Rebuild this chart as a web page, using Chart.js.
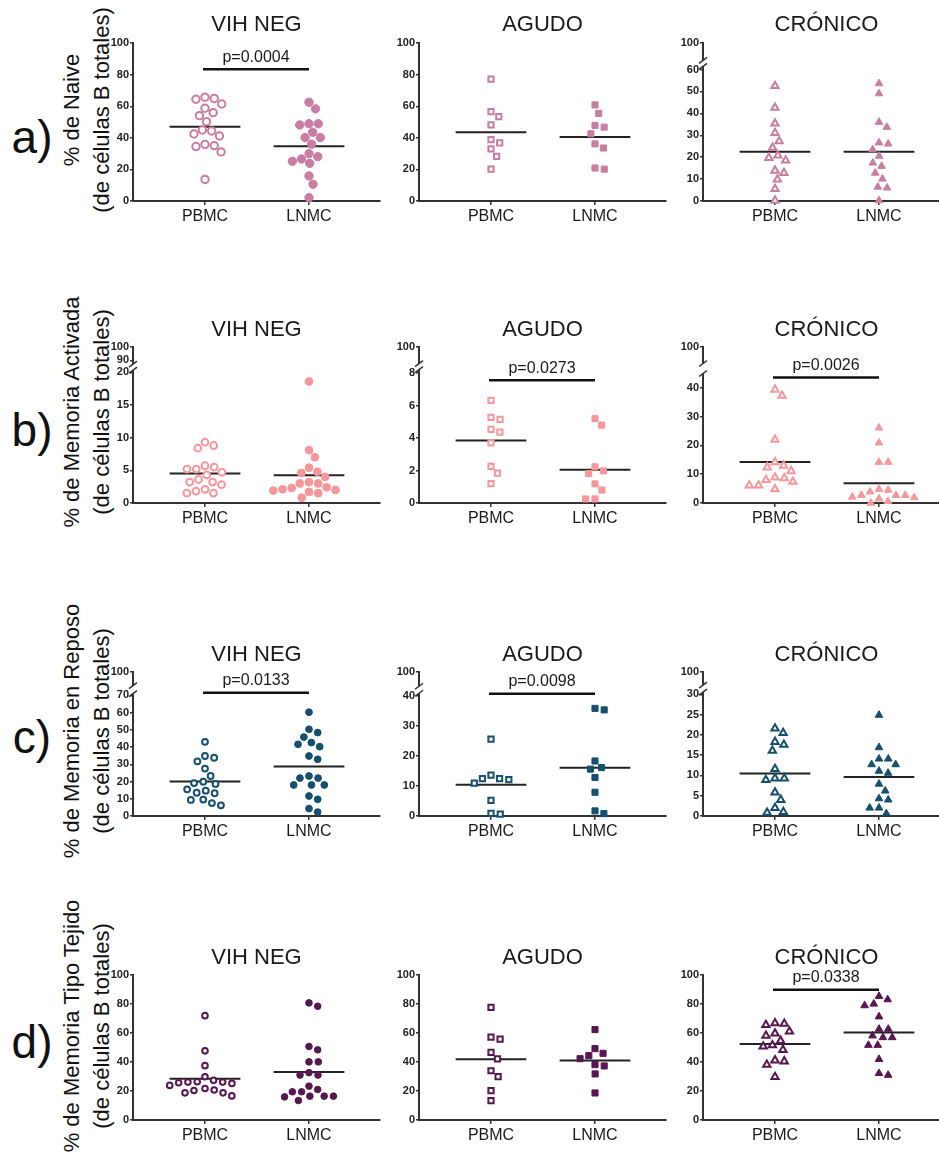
<!DOCTYPE html>
<html>
<head>
<meta charset="utf-8">
<script src="https://cdn.jsdelivr.net/npm/chart.js@4.4.1/dist/chart.umd.min.js"></script>
<style>
  html, body { margin: 0; padding: 0; background: #fff; width: 939px; height: 1152px; overflow: hidden; }
  body { position: relative; font-family: "Liberation Sans", Arial, sans-serif; color: #111; }
  canvas { position: absolute; }
  .letra { position: absolute; font-size: 46px; line-height: 46px; transform: translate(-50%, -50%); }
  .ejey { position: absolute; font-size: 22px; line-height: 30px; text-align: center; white-space: nowrap;
          transform: translate(-50%, -50%) rotate(-90deg); }
</style>
</head>
<body>
<script>
// categorias y textos
const grupos = ['PBMC', 'LNMC'];
const titulos = ['VIH NEG', 'AGUDO', 'CRÓNICO'];
const letras = ['a)', 'b)', 'c)', 'd)'];
const ejesY = [
  ['% de Naive', '(de células B totales)'],
  ['% de Memoria Activada', '(de células B totales)'],
  ['% de Memoria en Reposo', '(de células B totales)'],
  ['% de Memoria Tipo Tejido', '(de células B totales)']
];

// a) Naive
const naiveVihPBMC = [64.5, 65.8, 65, 58.8, 61.5, 54.1, 56, 50.3, 44.4, 45, 41.2, 42.5, 35.9, 34.5, 35.1, 31.1, 13.7];
const naiveVihLNMC = [62.6, 58.4, 49, 48.2, 49, 43.6, 40.2, 40.2, 36, 30, 28.1, 26.6, 25.2, 23.9, 15.9, 10.6, 2.1];
const naiveAgudoPBMC = [77.2, 56.6, 53.4, 48.3, 38.9, 36.8, 33, 28.3, 20.2];
const naiveAgudoLNMC = [60.9, 55.5, 47.9, 46.8, 42.6, 36.2, 33.6, 20.9, 20.2];
const naiveCronPBMC = [52.5, 42.6, 35.4, 31.1, 27.3, 24.3, 20.8, 19.7, 18.5, 13.9, 12.8, 9.8, 5.5, 0.2];
const naiveCronLNMC = [53.6, 49, 36, 33.7, 26.6, 26.1, 23.5, 20.5, 17.4, 15.9, 12.8, 10.1, 6.4, 6, 0.2];

// b) Memoria activada
const actVihPBMC = [8.8, 8.4, 9.3, 5.5, 5.2, 5.2, 5.7, 4.3, 4.7, 3.2, 3.2, 3.6, 2.8, 1.8, 1.5, 1.5, 2.1];
const actVihLNMC = [18.6, 8.1, 7, 5.4, 4.8, 4.6, 4, 3.2, 3, 3, 2.4, 2.3, 2.1, 2, 1.9, 1.7, 1.5, 0.8];
const actAgudoPBMC = [6.33, 5.28, 5.15, 4.54, 4.37, 3.71, 2.25, 1.84, 1.2];
const actAgudoLNMC = [5.2, 4.8, 2.23, 1.98, 1.81, 1.18, 0.8, 0.25, 0.25];
const actCronPBMC = [39.4, 37.3, 22, 14.2, 13, 12.4, 11.1, 8.9, 8.6, 8, 7.4, 6.1, 6.1, 4.8];
const actCronLNMC = [26.1, 20.9, 14.2, 14.2, 4.8, 4.5, 3.9, 2.7, 2.7, 2.7, 2.1, 1.9, 1.5, 0.6, 0];

// c) Memoria en reposo
const repVihPBMC = [43, 34.8, 33.8, 31.7, 27.5, 23.2, 19.9, 19.1, 18.6, 15.5, 14.7, 13.5, 13.2, 9.5, 9.3, 7.5, 6.2];
const repVihLNMC = [60.2, 50.3, 48.4, 45.8, 42.6, 41.6, 40.2, 34.8, 32.9, 23.2, 22, 22, 18, 18, 18, 11.6, 9.7, 4.3, 2.3];
const repAgudoPBMC = [25.6, 13.6, 12.4, 12.4, 12.1, 10.9, 5.2, 0.9, 0.6];
const repAgudoLNMC = [35.8, 35.3, 18.3, 16.1, 15.6, 12.8, 7.9, 1.7, 0.8];
const repCronPBMC = [21.6, 20.5, 18.3, 17.6, 16.1, 11.6, 9.3, 9.3, 8.9, 5.8, 4, 2, 1, 0.8];
const repCronLNMC = [24.9, 16.9, 14.1, 14.1, 12.7, 12.7, 11.1, 10.6, 7.9, 6.2, 4.3, 4, 2, 2, 0.6];

// d) Memoria tipo tejido
const tejVihPBMC = [71.8, 47.6, 37.4, 29.8, 27.3, 26.3, 26.1, 26.1, 25.6, 25.2, 23.8, 21.7, 20.6, 20.3, 18.7, 18.7, 16.6];
const tejVihLNMC = [80.6, 78.3, 50.6, 48.3, 40, 40, 32.6, 30.9, 30.9, 23.3, 21, 19.4, 19.4, 16.4, 16.4, 16.4, 15.9, 13.4];
const tejAgudoPBMC = [77.5, 57.1, 55.7, 46.6, 42, 33.9, 29.8, 20.2, 13.3];
const tejAgudoLNMC = [62.2, 49.1, 45.9, 44.3, 42.2, 38.1, 37.2, 31.7, 18.6];
const tejCronPBMC = [66.7, 66.3, 65.4, 61, 59.6, 58, 54.5, 51.5, 50.6, 48.3, 41.1, 40.4, 38.1, 29.6];
const tejCronLNMC = [85.2, 82.9, 79.9, 78.8, 71.1, 62.6, 62.6, 58, 56.8, 56.8, 51.5, 51.5, 41.8, 32.1, 30.9];

// etiquetas de los ejes Y
const ticks100 = [0, 20, 40, 60, 80, 100];
const ticksNaiveCron = [0, 10, 20, 30, 40, 50, 60, 100];
const ticksActVih = [0, 5, 10, 15, 20, 90, 100];
const ticksActAgudo = [0, 2, 4, 6, 8, 100];
const ticksActCron = [0, 10, 20, 30, 40, 100];
const ticksRepVih = [0, 10, 20, 30, 40, 50, 60, 70, 100];
const ticksRepAgudo = [0, 10, 20, 30, 40, 100];
const ticksRepCron = [0, 5, 10, 15, 20, 25, 30, 100];

// valores p
const pValores = [
  ['p=0.0004', null, null],
  [null, 'p=0.0273', 'p=0.0026'],
  ['p=0.0133', 'p=0.0098', null],
  [null, null, 'p=0.0338']
];

// ---- geometria (pixeles) ----
const ejeX = [133, 419, 703];
const anchoX = 247;
const estilos = ['circle', 'rect', 'triangle'];
const FUENTE = '"Liberation Sans", Arial, sans-serif';
Chart.defaults.font.family = FUENTE;

const filas = [
  { color: '#c97da3', radio: 4.7, top: 43, cero: 201, gap: 18, letraY: 137, tituloY: 110, paneles: [
    { datos: [naiveVihPBMC, naiveVihLNMC], ticks: ticks100, barra: 83.5 },
    { datos: [naiveAgudoPBMC, naiveAgudoLNMC], ticks: ticks100 },
    { datos: [naiveCronPBMC, naiveCronLNMC], ticks: ticksNaiveCron, corte: 62.8, hueco: 6, arriba: [72] }
  ]},
  { color: '#f7979b', radio: 4.4, top: 347, cero: 503, gap: 17, letraY: 430, tituloY: 412, paneles: [
    { datos: [actVihPBMC, actVihLNMC], ticks: ticksActVih, corte: 20.8, hueco: 6, arriba: [21.85, 23.85] },
    { datos: [actAgudoPBMC, actAgudoLNMC], ticks: ticksActAgudo, corte: 8.4, hueco: 6, arriba: [9.6], barra: 7.57 },
    { datos: [actCronPBMC, actCronLNMC], ticks: ticksActCron, corte: 46.7, hueco: 10, arriba: [54.1], barra: 43.6 }
  ]},
  { color: '#16506f', radio: 3.9, top: 672, cero: 816, gap: 16.5, letraY: 737, tituloY: 731, paneles: [
    { datos: [repVihPBMC, repVihLNMC], ticks: ticksRepVih, corte: 73.3, hueco: 8, arriba: [83.7], barra: 71.5 },
    { datos: [repAgudoPBMC, repAgudoLNMC], ticks: ticksRepAgudo, corte: 42, hueco: 7, arriba: [48], barra: 40.7 },
    { datos: [repCronPBMC, repCronLNMC], ticks: ticksRepCron, corte: 31.4, hueco: 7, arriba: [35.6] }
  ]},
  { color: '#571750', radio: 3.8, top: 975, cero: 1120, gap: 16.5, letraY: 1042, tituloY: 1026, paneles: [
    { datos: [tejVihPBMC, tejVihLNMC], ticks: ticks100 },
    { datos: [tejAgudoPBMC, tejAgudoLNMC], ticks: ticks100 },
    { datos: [tejCronPBMC, tejCronLNMC], ticks: ticks100, barra: 89.6 }
  ]}
];

// reparte los puntos en horizontal sin que se pisen (beeswarm)
function enjambre(py, D) {
  const orden = py.map((y, i) => i).sort((a, b) => py[a] - py[b]);
  const puestos = [];
  const xs = new Array(py.length);
  orden.forEach(i => {
    const y = py[i];
    const cerca = puestos.filter(p => Math.abs(p.y - y) < D);
    const cands = [0];
    cerca.forEach(p => {
      const dx = Math.sqrt(D * D - (p.y - y) * (p.y - y));
      cands.push(p.x + dx, p.x - dx);
    });
    cands.sort((a, b) => Math.abs(a) - Math.abs(b) || b - a);
    const x = cands.find(cx => cerca.every(p => (p.x - cx) ** 2 + (p.y - y) ** 2 >= D * D - 0.01));
    xs[i] = x;
    puestos.push({ x: x, y: y });
  });
  return xs;
}

function media(arr) {
  return arr.reduce((s, v) => s + v, 0) / arr.length;
}

// letras de fila y titulos del eje Y como texto HTML
filas.forEach((fila, r) => {
  const l = document.createElement('div');
  l.className = 'letra';
  l.textContent = letras[r];
  l.style.left = '32px';
  l.style.top = fila.letraY + 'px';
  document.body.appendChild(l);

  const t = document.createElement('div');
  t.className = 'ejey';
  t.innerHTML = ejesY[r][0] + '<br>' + ejesY[r][1];
  t.style.left = '87px';
  t.style.top = fila.tituloY + 'px';
  document.body.appendChild(t);
});

filas.forEach((fila, r) => {
  fila.paneles.forEach((panel, c) => {
    const yW = c === 0 ? 60 : 45;
    const izq = ejeX[c] - yW;
    const tituloH = 22 * 1.2;
    const pt = 4;
    const pb = fila.gap - tituloH / 2;
    const arribaCanvas = fila.top - (pt + tituloH + pb);
    const alto = Math.round(fila.cero - arribaCanvas + 30);
    const ancho = yW + anchoX + 8;

    const canvas = document.createElement('canvas');
    canvas.width = ancho;
    canvas.height = alto;
    canvas.style.left = izq + 'px';
    canvas.style.top = arribaCanvas + 'px';
    document.body.appendChild(canvas);

    // posiciones de las marcas del eje Y (las de arriba del corte van comprimidas)
    const sobre = panel.ticks.filter(t => panel.corte != null && t > panel.corte);
    const posiciones = panel.ticks.map(t => (panel.corte != null && t > panel.corte) ? panel.arriba[sobre.indexOf(t)] : t);
    const maxY = posiciones[posiciones.length - 1];

    const xmin = 1 - 72 / 104;
    const xmax = xmin + anchoX / 104;
    const estilo = estilos[c];
    let rHueco = fila.radio - 1, rLleno = fila.radio - 0.5;
    if (estilo === 'rect') { rHueco = 3.7; rLleno = 4.3; }
    if (estilo === 'triangle') { rHueco = 4.2; rLleno = 4.4; }

    const p = pValores[r][c];

    const extras = {
      id: 'extras' + r + c,
      afterDatasetsDraw(chart) {
        if (!p) return;
        const ctx = chart.ctx;
        const xs = chart.scales.x, ys = chart.scales.y;
        const y = ys.getPixelForValue(panel.barra);
        const x1 = xs.getPixelForValue(1) - 2, x2 = xs.getPixelForValue(2);
        ctx.save();
        ctx.strokeStyle = '#111';
        ctx.lineWidth = 2.5;
        ctx.beginPath();
        ctx.moveTo(x1, y);
        ctx.lineTo(x2, y);
        ctx.stroke();
        ctx.fillStyle = '#1a1a1a';
        ctx.font = '16px ' + FUENTE;
        ctx.textAlign = 'center';
        ctx.textBaseline = 'middle';
        ctx.fillText(p, (x1 + x2) / 2, y - 12);
        ctx.restore();
      },
      afterDraw(chart) {
        if (panel.corte == null) return;
        const ctx = chart.ctx;
        const y = chart.scales.y.getPixelForValue(panel.corte);
        const x = chart.chartArea.left;
        const h = panel.hueco;
        ctx.save();
        ctx.fillStyle = '#fff';
        ctx.fillRect(x - 3, y - h / 2, 6, h);
        ctx.strokeStyle = '#333';
        ctx.lineWidth = 1.5;
        [y - h / 2, y + h / 2].forEach(yy => {
          ctx.beginPath();
          ctx.moveTo(x - 4, yy + 3);
          ctx.lineTo(x + 4, yy - 3);
          ctx.stroke();
        });
        ctx.restore();
      }
    };

    const lineaMedia = (g) => ({
      data: [{ x: g + 1 - 0.34, y: media(panel.datos[g]) }, { x: g + 1 + 0.34, y: media(panel.datos[g]) }],
      showLine: true,
      borderColor: '#222',
      borderWidth: 2,
      pointRadius: 0,
      clip: false
    });

    const chart = new Chart(canvas, {
      type: 'scatter',
      data: {
        datasets: [
          {
            data: panel.datos[0].map(v => ({ x: 1, y: v })),
            pointStyle: estilo,
            pointRadius: rHueco,
            pointBackgroundColor: '#fff',
            pointBorderColor: fila.color,
            pointBorderWidth: 2,
            clip: false
          },
          {
            data: panel.datos[1].map(v => ({ x: 2, y: v })),
            pointStyle: estilo,
            pointRadius: rLleno,
            pointBackgroundColor: fila.color,
            pointBorderColor: fila.color,
            pointBorderWidth: 1,
            clip: false
          },
          lineaMedia(0),
          lineaMedia(1)
        ]
      },
      options: {
        responsive: false,
        animation: false,
        devicePixelRatio: 1,
        layout: { padding: { left: 0, right: 8, top: 0, bottom: 0 } },
        plugins: {
          legend: { display: false },
          tooltip: { enabled: false },
          title: {
            display: true,
            fullSize: false,
            text: titulos[c],
            color: '#1a1a1a',
            font: { size: 22, weight: 'normal' },
            padding: { top: pt, bottom: pb }
          }
        },
        scales: {
          x: {
            type: 'linear',
            min: xmin,
            max: xmax,
            afterBuildTicks: s => { s.ticks = [{ value: 1 }, { value: 2 }]; },
            afterFit: s => { s.height = 30; },
            ticks: {
              callback: (v, i) => grupos[i],
              font: { size: 16 },
              color: '#1a1a1a',
              padding: 2,
              maxRotation: 0,
              autoSkip: false
            },
            grid: { drawOnChartArea: false, drawTicks: true, tickLength: 4, color: '#333', lineWidth: 1.5 },
            border: { color: '#333', width: 2 }
          },
          y: {
            type: 'linear',
            min: 0,
            max: maxY,
            afterBuildTicks: s => { s.ticks = posiciones.map(v => ({ value: v })); },
            afterFit: s => { s.width = yW; },
            ticks: {
              callback: (v, i) => String(panel.ticks[i]),
              font: { size: 11, weight: 'bold' },
              color: '#222',
              padding: 1,
              autoSkip: false
            },
            grid: { drawOnChartArea: false, drawTicks: true, tickLength: 3, color: '#333', lineWidth: 1.5 },
            border: { color: '#333', width: 2 }
          }
        }
      },
      plugins: [extras]
    });

    // separa los puntos de cada grupo
    const xs = chart.scales.x, ys = chart.scales.y;
    const ppu = xs.getPixelForValue(2) - xs.getPixelForValue(1);
    [0, 1].forEach(g => {
      const py = panel.datos[g].map(v => ys.getPixelForValue(v));
      const off = enjambre(py, 9.3);
      chart.data.datasets[g].data = panel.datos[g].map((v, i) => ({ x: g + 1 + off[i] / ppu, y: v }));
    });
    chart.update('none');
  });
});
</script>
</body>
</html>
